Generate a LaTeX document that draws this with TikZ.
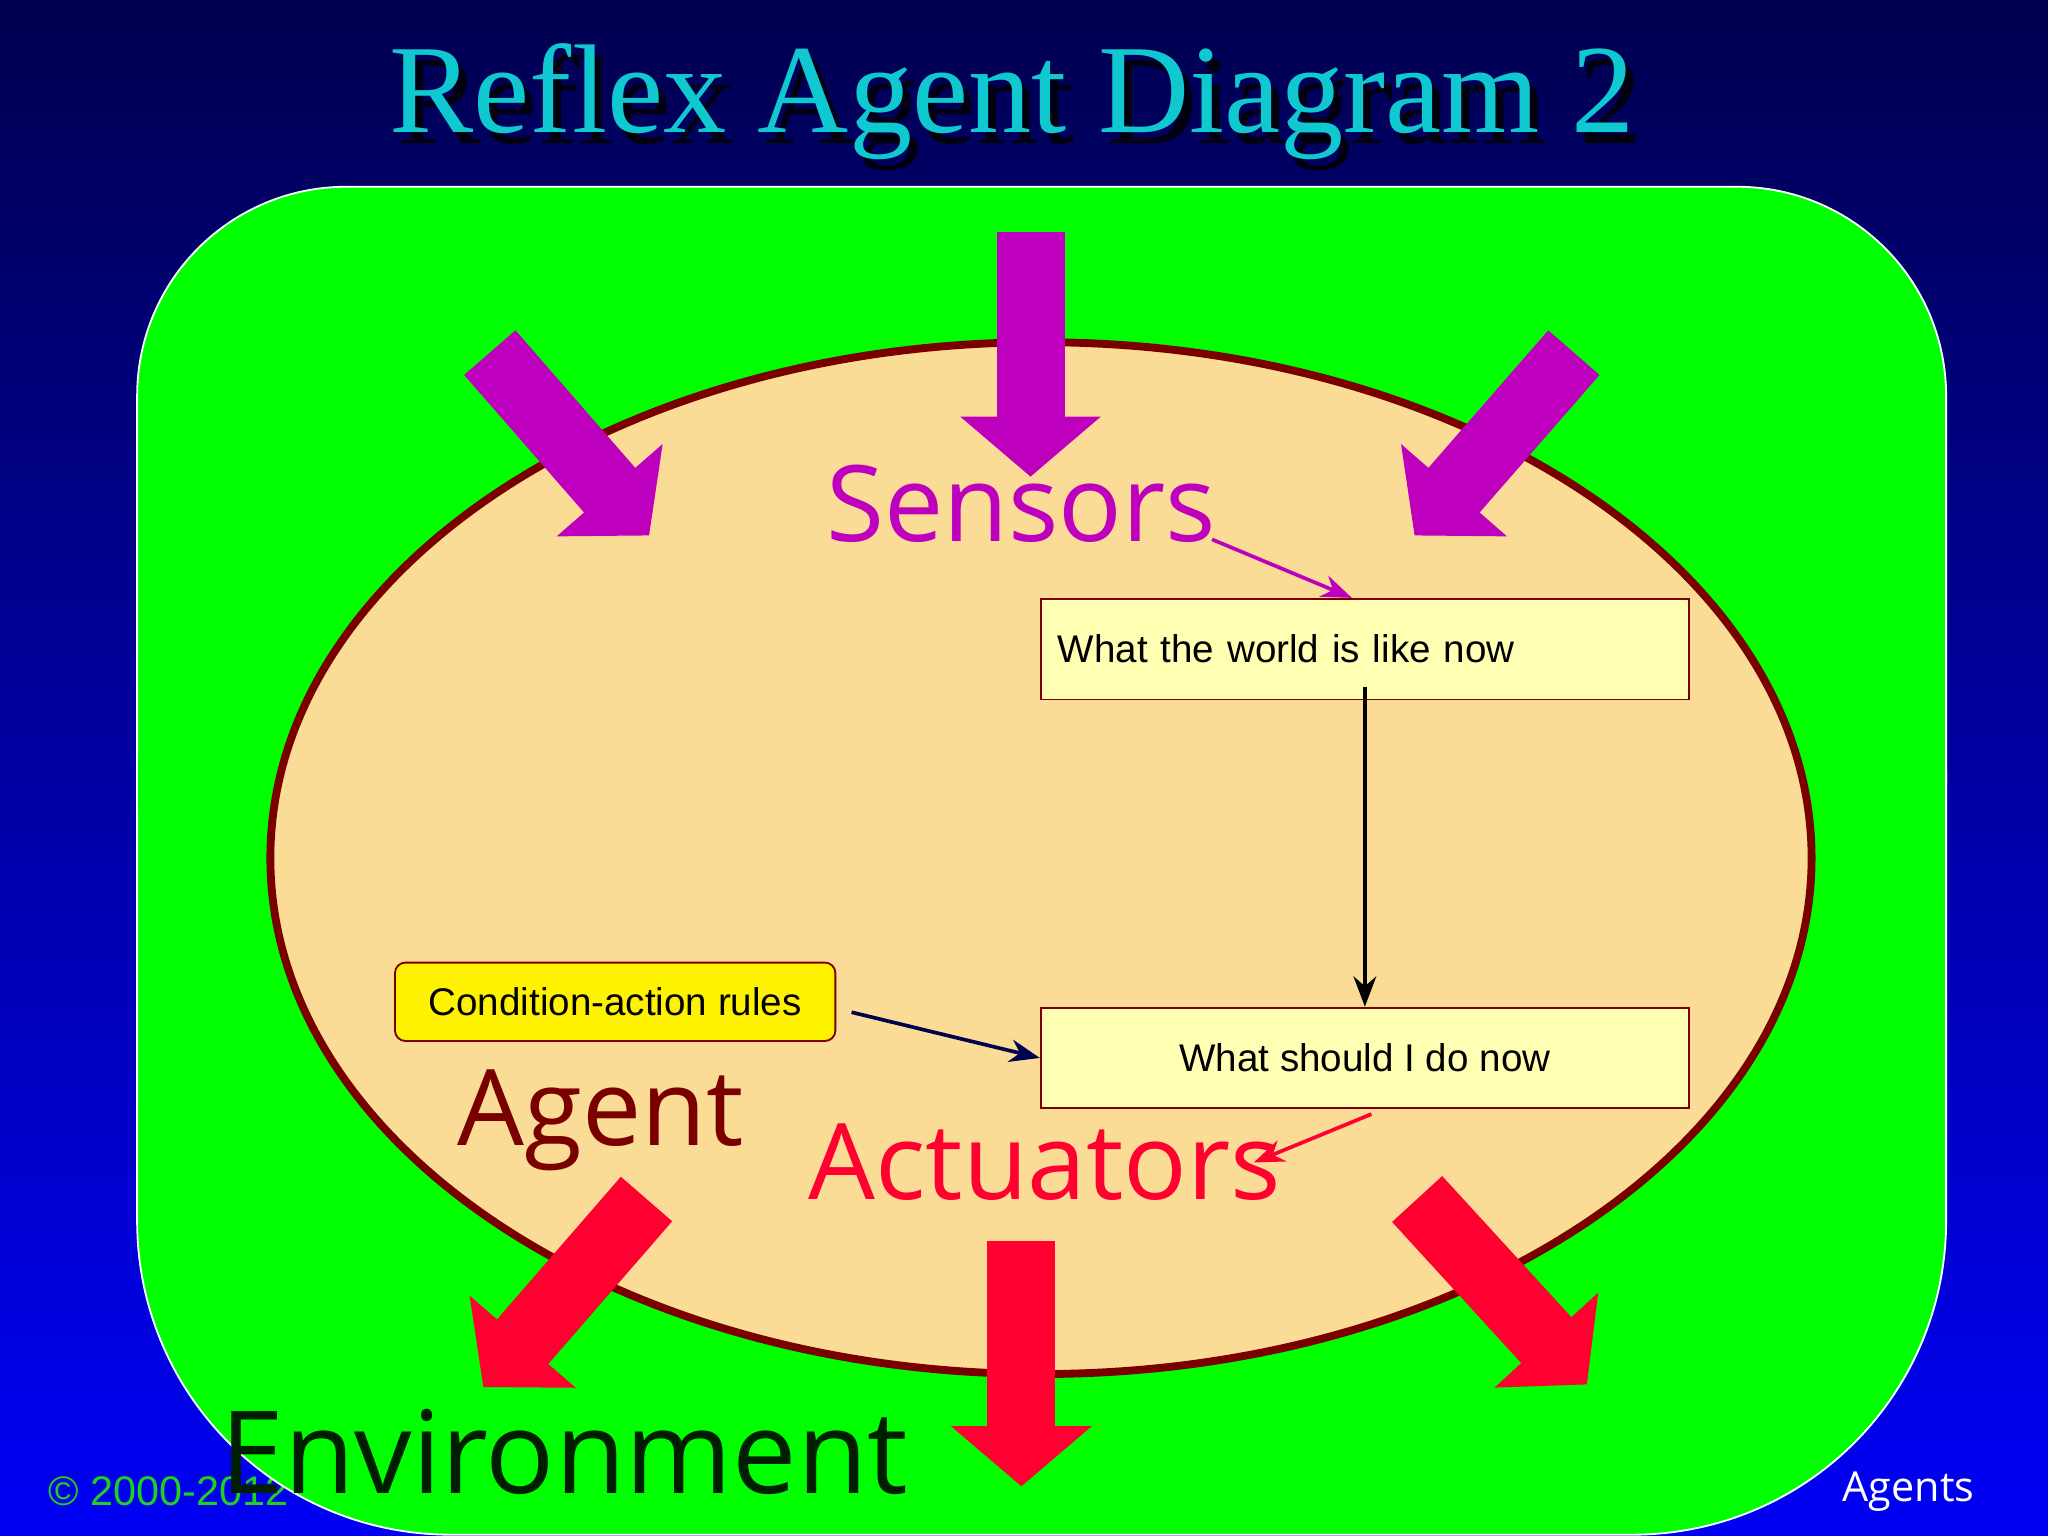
\documentclass[tikz,border=0pt]{standalone}
\usepackage{fontspec}
\setmainfont{Liberation Sans}
\newfontfamily\titlefont{Liberation Serif}
\newfontfamily\labelfont{Open Sans}
\usetikzlibrary{arrows.meta, positioning}
\definecolor{navytop}{HTML}{000050}
\definecolor{bluebot}{HTML}{0000F5}
\definecolor{field}{HTML}{00FF00}
\definecolor{body}{HTML}{FADC96}
\definecolor{rim}{HTML}{7A0000}
\definecolor{magentaarr}{HTML}{BE00BE}
\definecolor{redarr}{HTML}{FF0030}
\definecolor{boxfill}{HTML}{FFFFB4}
\definecolor{titlecyan}{HTML}{10C8D0}
\definecolor{footgreen}{HTML}{20D020}
\begin{document}
\begin{tikzpicture}[x=0.01cm, y=-0.01cm, >=Stealth,
    bigarrow/.style={line width=0.52cm, -{Triangle[length=0.46cm,width=1.05cm]}},
    stepbox/.style={draw=rim, fill=boxfill, minimum width=4.96cm, minimum height=0.77cm, font=\fontsize{8.4}{10}\selectfont},
    biglabel/.style={font=\labelfont\fontsize{23}{28}\selectfont}]
        % Background
        \shade[top color=navytop, bottom color=bluebot] (0,0) rectangle (1568,1176);
        \useasboundingbox (0,0) rectangle (1568,1176);
        \node[footgreen, font=\fontsize{9}{11}\selectfont, anchor=west] (copy) at (25,1142) {\textcopyright{} 2000-2012};
        \node[white, font=\labelfont\fontsize{9}{11}\selectfont, anchor=east] (topic) at (1524,1142) {Agents};

        % Title
        \node[black!80!navytop, font=\titlefont\fontsize{27.5}{33}\selectfont] at (781,86) {Reflex Agent Diagram 2};
        \node[titlecyan, font=\titlefont\fontsize{27.5}{33}\selectfont] (title) at (775,78) {Reflex Agent Diagram 2};

        % Environment and agent
        \draw[white, fill=field, rounded corners=1.6cm] (105,600) -- (105,143) -- (1490,143) -- (1490,600);
        \draw[white, fill=field, rounded corners=2.4cm] (105,590) -- (105,1175) -- (1490,1175) -- (1490,590);
        \fill[field] (106,580) rectangle (1489,620);
        \draw[rim, fill=body, line width=0.06cm] (797,657) ellipse (590 and 395);

        % Sensor arrows
        \draw[bigarrow, magentaarr] (375,270) -- (497,410);
        \draw[bigarrow, magentaarr] (789,178) -- (789,365);
        \draw[bigarrow, magentaarr] (1205,270) -- (1083,410);

        % Actuator arrows
        \draw[bigarrow, redarr] (495,918) -- (370,1062);
        \draw[bigarrow, redarr] (782,950) -- (782,1138);
        \draw[bigarrow, redarr] (1085,918) -- (1215,1060);

        % Labels
        \node[biglabel, magentaarr] (sensors) at (782,386) {Sensors};
        \node[biglabel, rim] (agent) at (460,858) {Agent};
        \node[biglabel, redarr] (actuators) at (800,890) {Actuators};
        \node[biglabel, black!80!green!60!black, font=\labelfont\fontsize{25}{30}\selectfont] (env) at (432,1112) {Environment};

        % Boxes
        \node[stepbox, text width=4.7cm, align=left] (world) at (1045,497) {What the world is like now};
        \node[stepbox] (action) at (1045,810) {What should I do now};
        \node[draw=rim, fill=yellow, rounded corners=0.08cm, minimum width=3.37cm, minimum height=0.6cm, font=\fontsize{8.4}{10}\selectfont] (rules) at (471,767) {Condition-action rules};

        % Connectors
        \coordinate (sensend) at (928,413);
        \coordinate (rulesend) at (652,775);
        \coordinate (actstart) at (1050,853);
        \coordinate (actend) at (960,890);
        \draw[->, magentaarr, thick] (sensend) -- (world.north -| 1035,0);
        \draw[->, thick] ([yshift=0.1cm]world.south) -- (action.north);
        \draw[->, navytop, thick] (rulesend) -- (action.west);
        \draw[->, redarr, thick] (actstart) -- (actend);
\end{tikzpicture}
\end{document}
